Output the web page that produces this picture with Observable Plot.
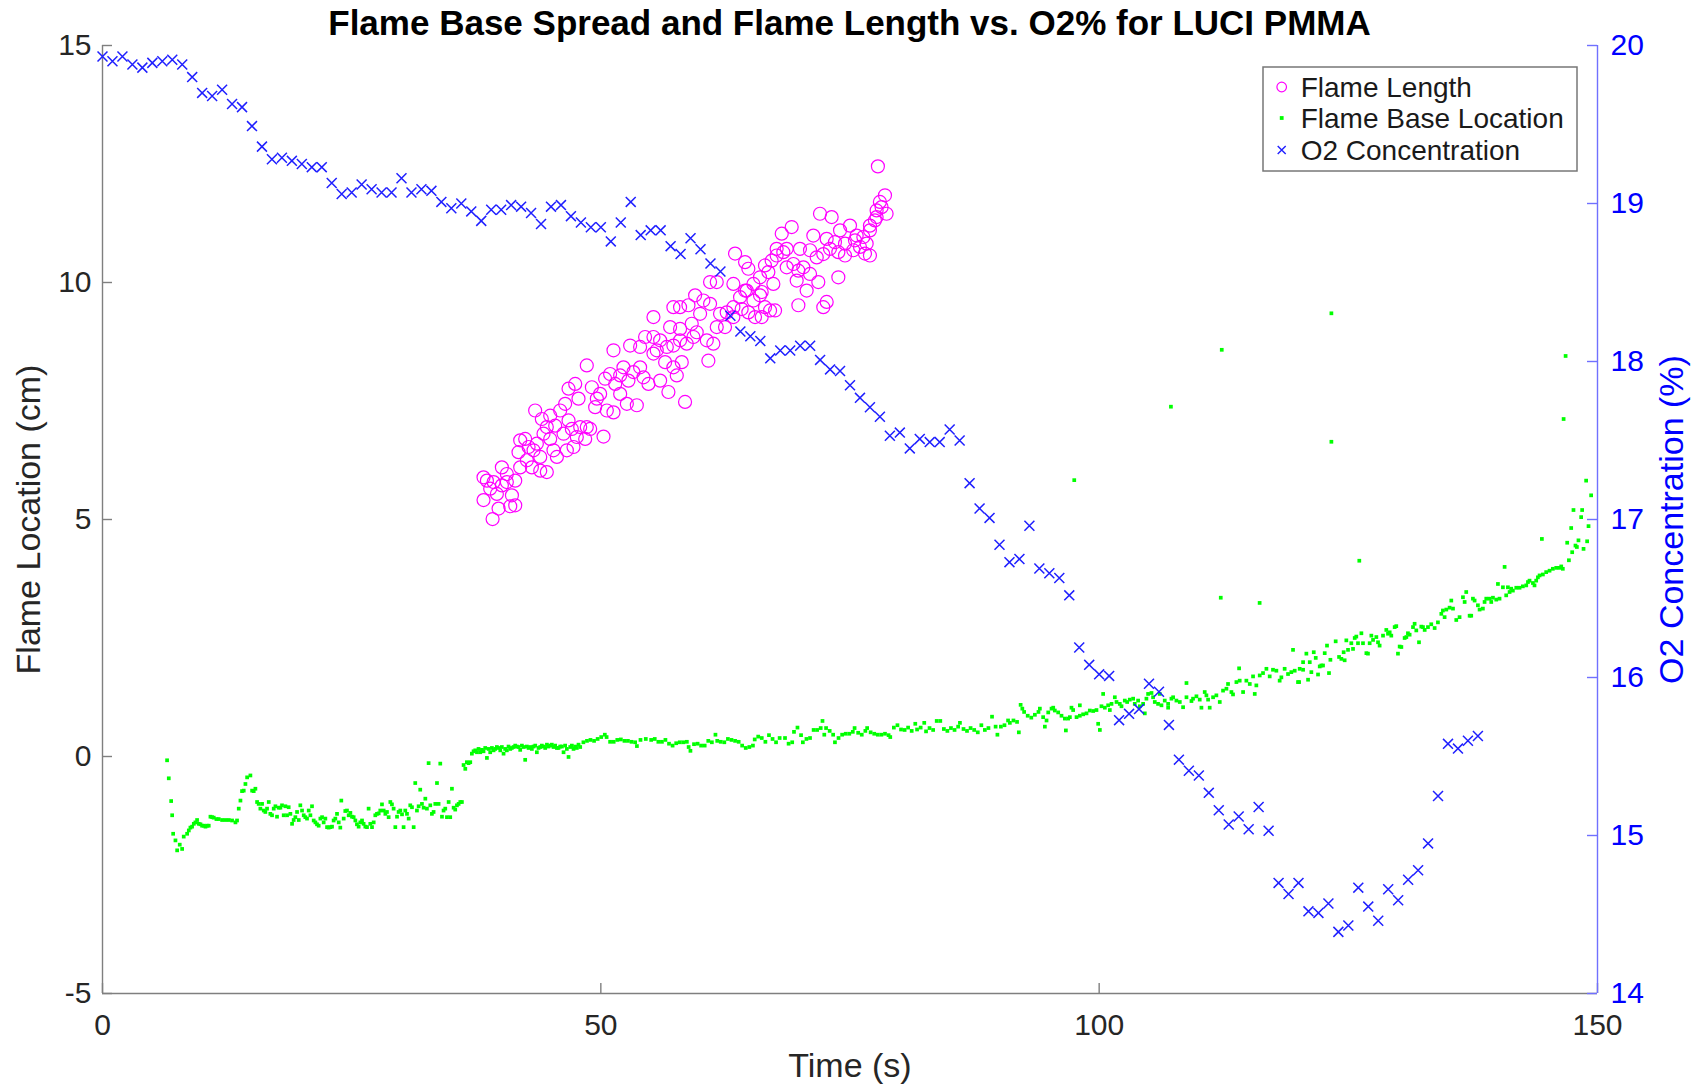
<!DOCTYPE html>
<html>
<head>
<meta charset="utf-8">
<script src="https://cdn.jsdelivr.net/npm/d3@7"></script>
<script src="https://cdn.jsdelivr.net/npm/@observablehq/plot@0.6"></script>
<style>
html, body { margin: 0; padding: 0; background: #fff; }
#wrap { position: relative; width: 1693px; height: 1085px; font-family: "Liberation Sans", Arial, sans-serif; overflow: hidden; }
#p1, #p2 { position: absolute; left: 0; top: 0; width: 1693px; height: 1085px; }
#p1 svg, #p2 svg { display: block; }
#title { position: absolute; left: 102px; width: 1495px; top: 5px; text-align: center; font-weight: bold; font-size: 35px; line-height: 35px; color: #000; white-space: nowrap; }
#wrap > #legend { position: absolute; left: 1262px; top: 66px; }
</style>
</head>
<body>
<div id="wrap">
  <div id="p1"></div>
  <div id="p2"></div>
  <div id="title"></div>
  <svg id="legend" width="318" height="108"></svg>
</div>
<script>
// ---------------- DATA ----------------
const xTicks = [0, 50, 100, 150];
const yTicks = [-5, 0, 5, 10, 15];
const o2Ticks = [14, 15, 16, 17, 18, 19, 20];

const titleText = "Flame Base Spread and Flame Length vs. O2% for LUCI PMMA";
const xLabel = "Time (s)";
const yLabel = "Flame Location (cm)";
const y2Label = "O2 Concentration (%)";
const seriesNames = ["Flame Length", "Flame Base Location", "O2 Concentration"];

// O2 concentration (%), one reading per second
const o2Time = [0,1,2,3,4,5,6,7,8,9,10,11,12,13,14,15,16,17,18,19,20,21,22,23,24,25,26,27,28,29,30,31,32,33,34,35,36,37,38,39,40,41,42,43,44,45,46,47,48,49,50,51,52,53,54,55,56,57,58,59,60,61,62,63,64,65,66,67,68,69,70,71,72,73,74,75,76,77,78,79,80,81,82,83,84,85,86,87,88,89,90,91,92,93,94,95,96,97,98,99,100,101,102,103,104,105,106,107,108,109,110,111,112,113,114,115,116,117,118,119,120,121,122,123,124,125,126,127,128,129,130,131,132,133,134,135,136,137,138];
const o2Value = [19.93,19.90,19.93,19.88,19.86,19.89,19.90,19.91,19.88,19.80,19.70,19.68,19.72,19.63,19.61,19.49,19.36,19.28,19.29,19.27,19.25,19.23,19.23,19.13,19.06,19.07,19.12,19.09,19.07,19.07,19.16,19.07,19.09,19.08,19.01,18.97,19.00,18.95,18.89,18.96,18.96,18.99,18.98,18.94,18.87,18.98,18.99,18.92,18.88,18.85,18.85,18.76,18.88,19.01,18.80,18.83,18.83,18.73,18.68,18.78,18.71,18.62,18.57,18.29,18.19,18.16,18.13,18.02,18.07,18.07,18.10,18.10,18.01,17.95,17.94,17.85,17.77,17.71,17.65,17.53,17.55,17.45,17.51,17.49,17.49,17.57,17.50,17.23,17.07,17.01,16.84,16.73,16.75,16.96,16.69,16.66,16.63,16.52,16.19,16.08,16.02,16.01,15.73,15.77,15.80,15.96,15.91,15.70,15.48,15.41,15.38,15.27,15.16,15.07,15.12,15.04,15.18,15.03,14.70,14.63,14.70,14.52,14.51,14.57,14.39,14.43,14.67,14.55,14.46,14.66,14.59,14.72,14.78,14.95,15.25,15.58,15.55,15.60,15.63];

// Flame length (cm): [time s, length cm]
const flameLength = [[39.14,5.01],[38.23,5.41],[39.74,5.23],[40.91,5.28],[41.41,5.30],[38.57,5.82],[39.24,5.79],[40.07,5.72],[38.23,5.89],[38.90,5.65],[39.57,5.54],[40.57,5.79],[41.08,5.51],[41.41,5.82],[40.07,6.10],[40.57,5.96],[41.91,6.10],[41.91,6.67],[42.41,6.70],[42.75,6.53],[41.74,6.42],[43.25,6.46],[43.08,6.10],[43.92,6.03],[44.58,6.00],[42.58,6.25],[43.92,6.32],[43.58,6.60],[44.25,6.81],[44.92,6.70],[44.58,6.95],[45.25,6.46],[45.59,6.32],[46.59,6.46],[47.26,6.53],[43.41,7.30],[44.08,7.12],[44.92,7.19],[45.42,6.98],[45.92,7.30],[46.42,7.44],[46.76,7.09],[46.26,6.81],[47.09,6.91],[47.93,6.95],[47.59,6.74],[48.59,6.95],[48.43,6.70],[48.93,6.91],[50.27,6.75],[47.43,7.86],[46.76,7.76],[47.76,7.55],[48.59,8.25],[49.10,7.79],[49.60,7.55],[49.93,7.65],[50.60,7.30],[51.27,7.26],[49.43,7.37],[50.43,7.97],[50.93,8.07],[51.44,7.86],[51.94,7.65],[52.27,8.21],[52.77,7.93],[53.27,8.11],[53.94,8.21],[54.28,8.00],[54.78,7.86],[51.94,8.04],[52.61,7.44],[53.61,7.41],[51.27,8.57],[52.94,8.67],[53.94,8.64],[54.44,8.85],[55.28,8.85],[55.95,8.78],[56.62,8.64],[55.61,8.57],[57.28,8.67],[57.95,8.78],[58.62,8.71],[59.29,8.85],[55.28,8.50],[56.45,8.32],[57.28,8.21],[58.12,8.32],[57.62,8.04],[56.78,7.69],[58.45,7.48],[55.95,7.93],[55.28,9.27],[56.95,9.06],[57.95,9.02],[57.28,9.48],[57.95,9.48],[58.79,9.52],[59.46,9.73],[60.29,9.62],[60.96,9.55],[59.96,9.34],[59.12,9.13],[59.62,8.95],[60.63,8.78],[61.29,8.71],[60.79,8.35],[61.96,9.34],[62.63,9.37],[63.30,9.48],[64.13,9.44],[64.80,9.37],[65.47,9.27],[66.14,9.27],[67.48,9.41],[61.63,9.06],[62.46,9.06],[63.30,9.27],[63.97,9.69],[64.64,9.83],[65.31,9.62],[65.97,9.73],[66.47,9.48],[66.98,9.41],[60.96,10.01],[61.63,10.01],[63.30,9.97],[64.47,9.83],[65.31,9.97],[66.14,9.80],[63.47,10.61],[64.47,10.43],[64.80,10.29],[65.97,10.11],[66.81,10.22],[67.31,9.97],[66.47,10.36],[67.14,10.46],[67.64,10.57],[68.31,10.64],[68.65,10.32],[69.32,10.39],[69.82,10.25],[70.32,10.32],[70.99,10.18],[69.65,10.04],[70.65,9.83],[71.82,10.01],[69.82,9.52],[72.32,9.48],[72.66,9.59],[73.83,10.11],[68.15,11.03],[69.15,11.17],[67.64,10.71],[68.65,10.71],[69.98,10.71],[70.99,10.68],[71.66,10.53],[72.32,10.60],[72.99,10.71],[73.83,10.64],[74.50,10.57],[75.33,10.68],[76.00,10.75],[76.67,10.82],[76.50,10.61],[77.00,10.57],[71.32,10.99],[71.99,11.45],[73.16,11.38],[74.00,11.10],[75.00,11.20],[75.67,10.99],[76.34,10.96],[72.66,10.92],[73.49,10.85],[74.50,10.82],[75.50,10.89],[77.00,11.20],[77.50,11.31],[77.00,11.10],[77.67,11.52],[78.17,11.59],[78.51,11.84],[78.00,11.70],[78.67,11.45],[77.67,11.38],[77.80,12.45]];

// Flame base location (cm): [time s, location cm]
const flameBase = [[6.48,-0.08],[6.65,-0.46],[6.89,-0.94],[6.99,-1.24],[7.09,-1.63],[7.32,-1.77],[7.49,-1.98],[7.75,-1.86],[7.99,-1.95],[8.15,-1.69],[8.49,-1.63],[8.66,-1.56],[8.82,-1.50],[8.99,-1.48],[9.16,-1.42],[9.32,-1.39],[9.49,-1.34],[9.66,-1.42],[9.83,-1.43],[9.99,-1.46],[10.16,-1.46],[10.33,-1.48],[10.49,-1.46],[10.66,-1.46],[10.83,-1.27],[11.00,-1.28],[11.16,-1.29],[11.43,-1.32],[11.66,-1.32],[12.00,-1.34],[12.33,-1.34],[12.67,-1.34],[13.00,-1.35],[13.34,-1.39],[13.50,-1.35],[13.67,-1.10],[13.84,-0.93],[14.00,-0.73],[14.17,-0.72],[14.34,-0.58],[14.51,-0.44],[14.84,-0.40],[15.01,-0.72],[15.17,-0.73],[15.34,-0.68],[15.51,-0.96],[15.67,-1.00],[15.84,-1.10],[16.01,-1.00],[16.18,-1.14],[16.34,-1.17],[16.51,-1.10],[16.68,-0.96],[16.84,-1.21],[17.01,-1.24],[17.18,-1.10],[17.35,-1.05],[17.51,-1.27],[17.68,-1.08],[17.85,-1.08],[18.01,-1.03],[18.18,-1.24],[18.35,-1.05],[18.52,-1.24],[18.68,-1.07],[18.85,-1.21],[19.02,-1.42],[19.18,-1.34],[19.35,-1.28],[19.52,-1.17],[19.69,-1.34],[19.85,-1.03],[20.02,-1.14],[20.19,-1.24],[20.35,-1.28],[20.52,-1.31],[20.69,-1.14],[20.86,-1.24],[21.02,-1.05],[21.19,-1.35],[21.36,-1.39],[21.52,-1.43],[21.69,-1.46],[21.86,-1.31],[22.03,-1.28],[22.19,-1.39],[22.36,-1.31],[22.53,-1.49],[22.69,-1.50],[22.86,-1.49],[23.03,-1.48],[23.19,-1.35],[23.36,-1.31],[23.53,-1.21],[23.70,-1.39],[23.86,-1.50],[23.96,-0.93],[24.20,-1.31],[24.36,-1.15],[24.53,-1.14],[24.70,-1.24],[24.87,-1.19],[25.03,-1.27],[25.20,-1.28],[25.37,-1.35],[25.53,-1.43],[25.70,-1.48],[25.87,-1.39],[26.04,-1.35],[26.20,-1.42],[26.37,-1.48],[26.54,-1.49],[26.70,-1.10],[26.87,-1.42],[27.04,-1.49],[27.21,-1.39],[27.37,-1.24],[27.54,-1.21],[27.71,-1.20],[27.87,-1.14],[28.04,-1.01],[28.21,-1.14],[28.38,-1.21],[28.54,-1.17],[28.71,-1.28],[28.88,-0.96],[29.04,-1.01],[29.21,-1.10],[29.38,-1.49],[29.55,-1.27],[29.71,-1.17],[29.88,-1.14],[30.05,-1.22],[30.21,-1.49],[30.38,-1.14],[30.55,-1.21],[30.72,-1.31],[30.88,-1.03],[31.05,-1.07],[31.22,-1.49],[31.38,-0.56],[31.55,-1.14],[31.72,-1.05],[31.88,-0.70],[32.05,-1.00],[32.22,-1.08],[32.39,-0.89],[32.55,-1.10],[32.72,-0.14],[32.89,-1.03],[33.05,-1.21],[33.22,-1.17],[33.39,-1.00],[33.56,-0.56],[33.72,-1.00],[33.89,-0.15],[34.06,-1.27],[34.22,-1.14],[34.39,-1.10],[34.56,-1.28],[34.73,-0.96],[34.89,-1.28],[35.06,-0.68],[35.23,-1.08],[35.39,-1.12],[35.56,-1.03],[35.73,-1.00],[35.90,-0.96],[36.06,-0.96],[36.23,-0.18],[36.40,-0.26],[36.56,-0.12],[36.73,-0.14],[36.90,-0.12],[37.06,0.06],[37.23,0.11],[37.40,0.13],[37.57,0.09],[37.73,0.16],[37.90,0.09],[38.07,0.14],[38.23,0.11],[38.40,0.18],[38.57,-0.03],[38.74,0.16],[38.90,0.09],[39.07,0.18],[39.24,0.13],[39.40,0.16],[39.57,0.20],[39.74,0.18],[39.91,0.13],[40.07,0.20],[40.24,0.06],[40.40,0.16],[40.57,0.13],[40.74,0.21],[40.91,0.16],[41.07,0.18],[41.24,0.20],[41.41,0.23],[41.58,0.21],[41.74,0.20],[41.91,0.14],[42.08,0.23],[42.25,0.20],[42.41,-0.07],[42.58,0.21],[42.75,0.18],[42.91,0.20],[43.08,0.16],[43.25,0.21],[43.42,0.23],[43.58,0.09],[43.75,0.18],[43.92,0.20],[44.08,0.23],[44.25,0.21],[44.42,0.18],[44.59,0.25],[44.75,0.21],[44.92,0.23],[45.08,0.25],[45.25,0.20],[45.42,0.23],[45.59,0.18],[45.75,0.18],[45.92,0.21],[46.09,0.21],[46.26,0.09],[46.42,0.23],[46.59,0.16],[46.76,-0.01],[46.93,0.20],[47.09,0.23],[47.26,0.16],[47.42,0.21],[47.59,0.18],[47.76,0.25],[47.93,0.20],
[48.25,0.30],[48.61,0.33],[48.96,0.35],[49.32,0.33],[49.68,0.37],[50.04,0.41],[50.40,0.46],[50.58,0.41],[50.93,0.31],[51.29,0.31],[51.65,0.35],[52.01,0.36],[52.37,0.33],[52.72,0.33],[53.08,0.31],[53.44,0.30],[53.62,0.22],[53.98,0.35],[54.51,0.37],[55.05,0.35],[55.41,0.37],[55.77,0.31],[56.13,0.31],[56.48,0.35],[56.84,0.27],[57.20,0.23],[57.56,0.28],[57.92,0.30],[58.27,0.30],[58.63,0.31],[58.81,0.20],[58.99,0.12],[59.35,0.26],[59.71,0.27],[60.06,0.23],[60.42,0.23],[60.78,0.33],[61.14,0.30],[61.50,0.46],[61.68,0.33],[62.03,0.31],[62.39,0.30],[62.75,0.37],[63.11,0.35],[63.47,0.33],[63.83,0.31],[64.18,0.23],[64.54,0.18],[64.90,0.20],[65.26,0.23],[65.44,0.36],[65.79,0.42],[66.15,0.39],[66.51,0.31],[66.87,0.45],[67.23,0.37],[67.58,0.30],[67.94,0.39],[68.48,0.39],[68.84,0.27],[69.20,0.30],[69.38,0.52],[69.73,0.61],[70.09,0.45],[70.27,0.30],[70.63,0.37],[70.99,0.39],[71.35,0.56],[71.70,0.56],[72.06,0.60],[72.24,0.75],[72.42,0.46],[72.60,0.60],[72.96,0.54],[73.31,0.46],[73.49,0.30],[73.85,0.39],[74.21,0.46],[74.57,0.48],[74.93,0.48],[75.28,0.52],[75.46,0.60],[75.82,0.50],[76.18,0.46],[76.54,0.54],[76.72,0.60],[77.07,0.51],[77.43,0.48],[77.79,0.46],[78.15,0.46],[78.51,0.48],[78.87,0.45],[79.04,0.41],[79.40,0.61],[79.76,0.66],[80.12,0.57],[80.48,0.56],[80.83,0.61],[81.19,0.54],[81.55,0.69],[81.73,0.57],[82.09,0.61],[82.45,0.71],[82.63,0.53],[82.98,0.60],[83.34,0.56],[83.70,0.75],[84.06,0.75],[84.42,0.58],[84.77,0.54],[85.13,0.60],[85.49,0.56],[85.85,0.63],[86.03,0.71],[86.39,0.58],[86.74,0.54],[87.10,0.60],[87.46,0.56],[87.82,0.51],[88.18,0.66],[88.53,0.56],[88.89,0.60],[89.25,0.84],[89.61,0.63],[89.79,0.46],[90.14,0.63],[90.50,0.66],[90.86,0.76],[91.04,0.71],[91.40,0.76],[91.76,0.73],[91.94,0.51],[92.12,1.09],[92.29,1.01],[92.47,0.94],[92.83,0.86],[93.19,0.82],[93.55,0.88],[93.91,0.94],
[94.05,1.01],[94.38,0.83],[94.55,0.63],[94.72,0.76],[94.89,0.93],[95.22,1.01],[95.39,1.03],[95.55,0.97],[95.89,0.93],[96.22,0.86],[96.56,0.80],[96.66,0.55],[96.89,0.80],[97.06,0.83],[97.22,1.03],[97.39,0.98],[97.73,0.83],[98.06,1.08],[98.06,0.86],[98.39,0.89],[98.73,0.91],[99.06,0.97],[99.40,0.96],[99.73,0.98],[99.90,0.69],[100.07,0.56],[100.23,1.06],[100.40,1.32],[100.57,1.03],[100.90,1.08],[101.07,0.98],[101.24,1.11],[101.57,1.25],[101.74,1.15],[102.07,1.11],[102.24,1.06],[102.57,1.18],[102.81,1.15],[103.07,1.20],[103.41,1.22],[103.57,1.11],[103.91,1.18],[104.08,1.06],[104.41,1.11],[104.58,0.91],[104.74,1.22],[104.91,1.32],[105.25,1.34],[105.41,1.25],[105.58,1.15],[105.91,1.11],[106.08,1.32],[106.25,1.08],[106.58,1.18],[106.92,1.11],[106.92,1.03],[107.25,1.22],[107.42,1.25],[107.75,1.18],[108.09,1.15],[108.42,1.04],[108.76,1.55],[108.76,1.25],[109.26,1.17],[109.42,1.22],[109.76,1.27],[110.09,1.20],[110.26,1.03],[110.59,1.36],[110.76,1.29],[110.93,1.20],[111.09,1.03],[111.43,1.25],[111.76,1.29],[112.10,1.15],[112.43,1.39],[112.77,1.43],[112.93,1.53],[113.27,1.36],[113.43,1.31],[113.77,1.57],[114.04,1.86],[114.10,1.60],[114.44,1.36],[114.77,1.60],[115.11,1.53],[115.44,1.69],[115.61,1.32],[115.77,1.50],[116.11,1.71],[116.44,1.76],[116.78,1.85],[117.11,1.69],[117.44,1.83],[117.78,1.81],[118.11,1.60],[118.28,1.67],[118.61,1.85],[118.95,1.74],[119.28,1.78],[119.45,2.25],[119.62,1.81],[119.95,1.57],
[120.06,1.57],[120.12,1.85],[120.46,1.83],[120.46,1.99],[120.79,2.17],[120.96,1.62],[121.13,1.99],[121.29,1.78],[121.53,2.20],[121.73,2.08],[121.96,1.73],[122.13,1.90],[122.29,1.92],[122.46,1.92],[122.63,2.18],[122.86,2.34],[123.06,1.76],[123.20,2.04],[123.73,2.43],[124.07,2.10],[124.30,2.06],[124.53,2.20],[124.63,2.03],[124.80,2.45],[124.97,2.25],[125.30,2.39],[125.47,2.27],[125.64,2.50],[125.80,2.53],[125.97,2.39],[126.31,2.60],[126.47,2.39],[126.81,2.18],[126.97,2.17],[127.14,2.39],[127.31,2.55],[127.48,2.46],[127.81,2.52],[127.98,2.41],[128.14,2.34],[128.48,2.55],[128.81,2.67],[128.98,2.59],[129.15,2.62],[129.31,2.55],[129.65,2.73],[129.81,2.75],[129.98,2.17],[130.15,2.32],[130.32,2.31],[130.65,2.50],[130.82,2.52],[130.98,2.60],[131.15,2.57],[131.49,2.73],[131.65,2.80],[131.82,2.66],[132.09,2.41],[132.32,2.74],[132.49,2.73],[132.66,2.67],[132.99,2.73],[133.32,2.79],[133.66,2.71],[133.99,2.83],[134.33,3.01],[134.49,3.08],[134.66,2.94],[134.83,3.10],[135.16,3.14],[135.33,3.29],[135.50,3.12],[135.83,2.88],[136.16,2.94],[136.50,3.36],[136.67,3.26],[136.83,3.47],[137.17,2.97],[137.33,2.97],[137.50,3.33],[137.67,3.29],[138.00,3.19],[138.17,3.10],[138.50,3.12],[138.67,3.26],[138.84,3.33],[139.17,3.33],[139.34,3.26],[139.51,3.35],[139.84,3.31],[140.01,3.64],[140.17,3.33],[140.51,3.57],[140.68,4.00],[140.84,3.40],[141.01,3.57],[141.18,3.47],[141.34,3.54],[141.51,3.50],[141.85,3.56],[142.18,3.56],[142.51,3.59],[142.85,3.61],[143.02,3.68],[143.18,3.71],[143.52,3.66],[143.68,3.61],[143.85,3.71],[144.02,3.78],[144.19,3.82],[144.42,4.59],[144.52,3.84],[144.85,3.89],[145.19,3.92],[145.52,3.96],[145.86,3.98],[146.19,3.98],[146.36,4.01],[146.52,3.96],[146.96,4.51],[147.13,4.14],[147.36,4.82],[147.46,4.31],[147.59,5.20],[147.79,4.45],[147.93,4.42],[148.09,4.56],[148.36,5.05],[148.46,5.20],[148.60,4.38],[148.96,4.54],[149.10,4.86],[149.36,5.51],[148.86,5.82],
[97.5,5.83],[107.2,7.38],[112.3,8.58],[112.2,3.35],[116.1,3.24],[123.3,9.35],[123.3,6.64],[126.1,4.13],[146.6,7.12],[146.8,8.45]];

// ---------------- CHART ----------------
const W = 1693, H = 1085, mL = 102, mR = 96, mT = 45, mB = 92;
const frameW = W - mL - mR, frameH = H - mT - mB;
const font = "'Liberation Sans', Arial, Helvetica, sans-serif";

const o2Data = o2Time.map((t, i) => ({t, v: o2Value[i]}));
const flData = flameLength.map(([t, v]) => ({t, v}));
const fbData = flameBase.map(([t, v]) => ({t, v}));

const axisGray = "#7f7f7f";
const labelDark = "#262626";
const plainFormat = d => String(d);

const p1 = Plot.plot({
  width: W, height: H,
  marginLeft: mL, marginRight: mR, marginTop: mT, marginBottom: mB,
  style: {fontFamily: font, fontSize: "30px", color: labelDark, background: "transparent", overflow: "visible"},
  x: {domain: [0, 150], ticks: xTicks, tickSize: 0, tickPadding: 20, tickFormat: plainFormat, label: null},
  y: {domain: [-5, 15], ticks: yTicks, tickSize: 0, tickPadding: 11, tickFormat: plainFormat, label: null, axis: "left"},
  marks: [
    Plot.ruleX([0], {stroke: axisGray, strokeWidth: 1.4}),
    Plot.ruleY([-5], {stroke: axisGray, strokeWidth: 1.4}),
    Plot.tickY(yTicks, {y: d => d, insetRight: frameW - 10, stroke: axisGray, strokeWidth: 1.4}),
    Plot.tickX(xTicks, {x: d => d, insetTop: frameH - 10, stroke: axisGray, strokeWidth: 1.4}),
    Plot.text([yLabel], {text: d => d, frameAnchor: "left", dx: -73, rotate: -90, textAnchor: "middle", lineAnchor: "middle", fontSize: 34, fill: labelDark}),
    Plot.text([xLabel], {text: d => d, frameAnchor: "bottom", dy: 73, textAnchor: "middle", lineAnchor: "middle", fontSize: 34, fill: labelDark}),
    Plot.dot(fbData, {x: "t", y: "v", symbol: "square", r: 2.1, fill: "#00ff00", stroke: null}),
    Plot.dot(flData, {x: "t", y: "v", r: 6.5, stroke: "#ff00ff", strokeWidth: 1.2, fill: "none"})
  ]
});
document.getElementById("p1").appendChild(p1);

const p2 = Plot.plot({
  width: W, height: H,
  marginLeft: mL, marginRight: mR, marginTop: mT, marginBottom: mB,
  style: {fontFamily: font, fontSize: "30px", color: "#0000ff", background: "transparent", overflow: "visible"},
  x: {domain: [0, 150], axis: null},
  y: {domain: [14, 20], ticks: o2Ticks, tickSize: 0, tickPadding: 13, tickFormat: plainFormat, label: null, axis: "right"},
  marks: [
    Plot.ruleX([150], {stroke: "#7070ff", strokeWidth: 1.4}),
    Plot.tickY(o2Ticks, {y: d => d, insetLeft: frameW - 10, stroke: "#7070ff", strokeWidth: 1.4}),
    Plot.text([y2Label], {text: d => d, frameAnchor: "right", dx: 75, rotate: -90, textAnchor: "middle", lineAnchor: "middle", fontSize: 34, fill: "#0000ff"}),
    Plot.dot(o2Data, {x: "t", y: "v", symbol: "times", r: 4.6, stroke: "#1f1fff", strokeWidth: 1.5})
  ]
});
document.getElementById("p2").appendChild(p2);

document.getElementById("title").textContent = titleText;

// ---------------- LEGEND ----------------
const lg = d3.select("#legend");
lg.append("rect").attr("x", 1).attr("y", 1).attr("width", 314).attr("height", 104)
  .attr("fill", "#fff").attr("stroke", "#777").attr("stroke-width", 1.5);
const rows = [21, 52, 84];
const mx = 19.7;
lg.append("circle").attr("cx", mx).attr("cy", rows[0]).attr("r", 4.8)
  .attr("fill", "none").attr("stroke", "#ff00ff").attr("stroke-width", 1.2);
lg.append("rect").attr("x", mx - 1.9).attr("y", rows[1] - 1.9).attr("width", 3.8).attr("height", 3.8).attr("fill", "#00ff00");
lg.append("path").attr("d", `M${mx-4},${rows[2]-4}L${mx+4},${rows[2]+4}M${mx-4},${rows[2]+4}L${mx+4},${rows[2]-4}`)
  .attr("stroke", "#1f1fff").attr("stroke-width", 1.4);
seriesNames.forEach((name, i) => {
  lg.append("text").attr("x", 38.7).attr("y", rows[i] + 9.8)
    .attr("font-family", font).attr("font-size", 28).attr("fill", "#1a1a1a").text(name);
});
</script>
</body>
</html>
